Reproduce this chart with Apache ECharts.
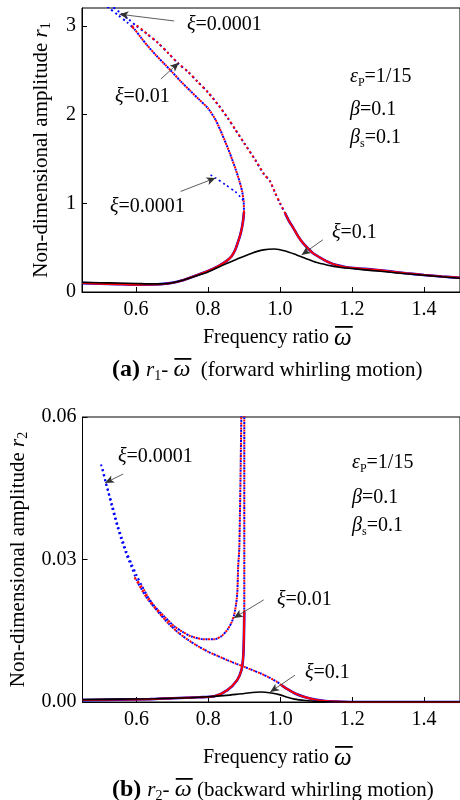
<!DOCTYPE html>
<html><head><meta charset="utf-8">
<script src="https://cdn.jsdelivr.net/npm/echarts@6/dist/echarts.min.js"></script>
<style>html,body{margin:0;padding:0;background:#fff}#c{width:460px;height:800px}</style>
</head><body><div id="c"></div>
<script>
// ---- tick values ----
const xTicks = [0.6, 0.8, 1.0, 1.2, 1.4];
const r1Ticks = [0, 1, 2, 3];
const r2Ticks = [0, 0.03, 0.06];

// ---- (a) r1 vs omega ----
const r1Xi01 = [[0.45,0.108],[0.50,0.105],[0.55,0.101],[0.60,0.096],[0.65,0.091],[0.68,0.093],[0.72,0.122],[0.76,0.172],[0.80,0.225],[0.84,0.300],[0.88,0.37],[0.92,0.435],[0.954,0.475],[0.985,0.485],[1.015,0.462],[1.046,0.418],[1.07,0.38],[1.10,0.334],[1.13,0.305],[1.165,0.279],[1.20,0.264],[1.257,0.241],[1.30,0.225],[1.35,0.205],[1.40,0.188],[1.45,0.171],[1.50,0.155]];
const r1Xi001Low = [[0.45,0.10],[0.50,0.094],[0.55,0.088],[0.60,0.083],[0.65,0.084],[0.69,0.097],[0.72,0.12],[0.75,0.16],[0.78,0.205],[0.81,0.255],[0.83,0.295],[0.85,0.345],[0.865,0.40],[0.875,0.47],[0.883,0.56],[0.89,0.65],[0.895,0.74],[0.898,0.82],[0.90,0.90]];
const r1Xi001Inner = [[0.90,0.90],[0.899,1.02],[0.895,1.13],[0.888,1.24],[0.877,1.38],[0.86,1.57],[0.84,1.77],[0.821,1.94],[0.80,2.07],[0.775,2.17],[0.75,2.27],[0.725,2.37],[0.70,2.48],[0.68,2.565],[0.655,2.67],[0.633,2.77],[0.615,2.86],[0.596,2.96],[0.588,2.99]];
const r1Xi001Outer = [[0.588,2.99],[0.60,3.0],[0.63,2.91],[0.66,2.81],[0.69,2.69],[0.716,2.58],[0.745,2.48],[0.771,2.37],[0.80,2.25],[0.83,2.10],[0.855,1.96],[0.876,1.83],[0.90,1.68],[0.931,1.49],[0.955,1.33],[0.972,1.25],[0.986,1.12],[1.0,1.0],[1.014,0.889]];
const r1Xi001Right = [[1.014,0.889],[1.025,0.80],[1.037,0.72],[1.05,0.63],[1.064,0.55],[1.078,0.49],[1.092,0.437],[1.115,0.38],[1.138,0.331],[1.16,0.30],[1.184,0.279],[1.22,0.265],[1.257,0.254],[1.30,0.235],[1.35,0.212],[1.40,0.192],[1.45,0.175],[1.50,0.16]];
const r1Xi00001InnerTop = [[0.596,2.96],[0.575,3.04],[0.55,3.12],[0.525,3.20],[0.50,3.27]];
const r1Xi00001OuterTop = [[0.51,3.29],[0.53,3.23],[0.555,3.15],[0.58,3.07],[0.60,3.0]];
const r1Xi00001Branch = [[0.807,1.32],[0.821,1.285],[0.848,1.21],[0.876,1.13],[0.89,1.07],[0.898,1.03]];

// ---- (b) r2 vs omega ----
const r2Xi01 = [[0.45,0.0005],[0.55,0.0006],[0.65,0.0007],[0.75,0.0009],[0.80,0.0011],[0.85,0.0014],[0.90,0.0018],[0.946,0.0021],[0.975,0.0019],[1.00,0.0015],[1.02,0.001],[1.04,0.0006],[1.07,0.0003],[1.10,0.0001],[1.15,0],[1.50,0]];
const r2Xi001Low = [[0.45,0.0004],[0.55,0.0005],[0.637,0.0006],[0.70,0.0008],[0.775,0.0010],[0.817,0.0012],[0.853,0.0025],[0.88,0.0046],[0.892,0.0067],[0.897,0.0095],[0.899,0.0138],[0.90,0.019]];
const r2Xi001Vert = [[0.90,0.019],[0.90,0.03],[0.90,0.045],[0.90,0.062]];
const r2Xi001Upper = [[0.595,0.0262],[0.615,0.0243],[0.633,0.022],[0.651,0.0201],[0.68,0.0178],[0.706,0.0159],[0.73,0.0147],[0.753,0.0138],[0.789,0.0132],[0.817,0.0132],[0.837,0.0139],[0.853,0.0152],[0.865,0.0168],[0.872,0.0184],[0.878,0.021],[0.881,0.0236],[0.883,0.0286],[0.886,0.0321],[0.888,0.04],[0.89,0.05],[0.892,0.062]];
const r2Xi001Lower = [[0.595,0.0262],[0.615,0.0236],[0.633,0.0215],[0.66,0.019],[0.688,0.0166],[0.715,0.0147],[0.743,0.0131],[0.77,0.0118],[0.799,0.0106],[0.826,0.0097],[0.853,0.0088],[0.876,0.0081],[0.90,0.0074],[0.923,0.0067],[0.946,0.006],[0.968,0.0052],[0.99,0.0043],[1.004,0.0035]];
const r2Xi001Right = [[1.004,0.0035],[1.02,0.0027],[1.041,0.0018],[1.07,0.001],[1.097,0.0005],[1.125,0.0002],[1.152,0.0001],[1.2,0],[1.5,0]];
const r2Xi00001UpperTop = [[0.50,0.0505],[0.513,0.0466],[0.532,0.0417],[0.548,0.0372],[0.56,0.0344],[0.573,0.0315],[0.587,0.029],[0.601,0.0266],[0.615,0.0245]];
const r2Xi00001LowerTop = [[0.505,0.0495],[0.515,0.0462],[0.532,0.041],[0.548,0.0366],[0.56,0.0337],[0.573,0.0309],[0.587,0.0283],[0.601,0.0256],[0.615,0.0236]];

// ---- annotation arrows (tail -> head, data coords) ----
const arrowsA = [[[0.706,3.054],[0.554,3.13]],[[0.669,2.40],[0.719,2.584]],[[0.724,1.133],[0.821,1.285]],[[1.119,0.588],[1.06,0.418]]];
const arrowsB = [[[0.563,0.048],[0.5126,0.0461]],[[0.954,0.0215],[0.871,0.0177]],[[1.041,0.00565],[0.972,0.0021]]];

const F = '"Liberation Serif","Times New Roman",serif';
const RED = '#ff0000', BLUE = '#0000ff', BLACK = '#000';
const rich = {
  n: {fontFamily: F, fontSize: 20, color: '#000', lineHeight: 24},
  i: {fontFamily: F, fontSize: 20, color: '#000', fontStyle: 'italic', lineHeight: 24},
  yn: {fontFamily: F, fontSize: 21, color: '#000', lineHeight: 24},
  yi: {fontFamily: F, fontSize: 21, color: '#000', fontStyle: 'italic', lineHeight: 24},
  s: {fontFamily: F, fontSize: 12, color: '#000', verticalAlign: 'bottom', lineHeight: 12},
  sc: {fontFamily: F, fontSize: 14, color: '#000', verticalAlign: 'bottom', lineHeight: 14}
};

function ln(data, g, color, width, dotted, offset, z) {
  return {
    type: 'line', xAxisIndex: g, yAxisIndex: g, data: data, showSymbol: false, symbol: 'none',
    smooth: 0.25, clip: true, z: z || 2, silent: true,
    lineStyle: {color: color, width: width, type: dotted ? [2, 3] : 'solid', dashOffset: offset || 0}
  };
}
function arrows(list, g) {
  return {
    type: 'line', xAxisIndex: g, yAxisIndex: g, data: [], silent: true,
    markLine: {
      silent: true, symbol: ['none', 'arrow'], symbolSize: [6, 9], animation: false,
      lineStyle: {color: '#333', width: 0.8, type: 'solid'}, label: {show: false},
      emphasis: {disabled: true},
      data: list.map(a => [{coord: a[0]}, {coord: a[1]}])
    }
  };
}
const blueInnerA = r1Xi001Inner.slice(0, -2).concat(r1Xi00001InnerTop);
const blueOuterA = r1Xi00001OuterTop.concat(r1Xi001Outer.slice(2));
const blueUpperB = r2Xi00001UpperTop.concat(r2Xi001Upper.slice(2));
const blueLowerB = r2Xi00001LowerTop.concat(r2Xi001Lower.slice(2));

function xAx(g) {
  return {
    type: 'value', gridIndex: g, min: 0.45, max: 1.5,
    axisLine: {show: true, lineStyle: {color: '#000', width: 1}},
    axisTick: {show: true, inside: true, length: 5, customValues: xTicks, lineStyle: {color: '#000'}},
    axisLabel: {customValues: xTicks, formatter: v => v.toFixed(1), fontFamily: F, fontSize: 20, color: '#000', margin: 8},
    splitLine: {show: false}
  };
}
function yAx(g, ticks, max, dec, sub, gap) {
  return {
    type: 'value', gridIndex: g, min: 0, max: max,
    name: '{yn|Non-dimensional amplitude }{yi|r}{sc|' + sub + '}', nameLocation: 'middle', nameGap: gap,
    nameTextStyle: {rich: rich},
    axisLine: {show: true, lineStyle: {color: '#000', width: 1}},
    axisTick: {show: true, inside: true, length: 5, customValues: ticks, lineStyle: {color: '#000'}},
    axisLabel: {customValues: ticks, formatter: v => v.toFixed(dec), fontFamily: F, fontSize: 20, color: '#000', margin: 6},
    splitLine: {show: false}
  };
}
function txt(x, y, text) {
  return {type: 'text', x: x, y: y, silent: true, style: {text: text, rich: rich, align: 'left', verticalAlign: 'middle'}};
}

// composite text with overline on chosen tokens (measured with canvas)
const mctx = document.createElement('canvas').getContext('2d');
function composite(x, y, tokens) {
  const out = [];
  const r = {};
  let str = '', cx = x;
  tokens.forEach((tk, k) => {
    const key = 'k' + k;
    const st = {fontFamily: F, fontSize: tk.size, color: '#000', lineHeight: tk.lh || 26,
      fontStyle: tk.it ? 'italic' : 'normal', fontWeight: tk.bold ? 'bold' : 'normal'};
    if (tk.sub) { st.verticalAlign = 'bottom'; }
    r[key] = st;
    str += '{' + key + '|' + tk.t + '}';
    mctx.font = (tk.it ? 'italic ' : '') + (tk.bold ? 'bold ' : '') + tk.size + 'px ' + F;
    const w = mctx.measureText(tk.t).width;
    if (tk.bar) {
      out.push({type: 'rect', silent: true, shape: {x: cx + 1, y: y + tk.bar, width: w, height: 1.8}, style: {fill: '#000'}});
    }
    cx += w;
  });
  out.unshift({type: 'text', x: x, y: y, silent: true, style: {text: str, rich: r, align: 'left', verticalAlign: 'middle'}});
  return out;
}

const graphics = [
  txt(187, 25, '{i|ξ}{n|=0.0001}'),
  txt(115, 97, '{i|ξ}{n|=0.01}'),
  txt(110, 207, '{i|ξ}{n|=0.0001}'),
  txt(332, 233, '{i|ξ}{n|=0.1}'),
  txt(350, 77, '{i|ε}{s|P}{n|=1/15}'),
  txt(350, 110, '{i|β}{n|=0.1}'),
  txt(350, 138, '{i|β}{s|s}{n|=0.1}'),
  txt(118, 457, '{i|ξ}{n|=0.0001}'),
  txt(277, 600, '{i|ξ}{n|=0.01}'),
  txt(305, 673, '{i|ξ}{n|=0.1}'),
  txt(352, 463, '{i|ε}{s|P}{n|=1/15}'),
  txt(352, 498, '{i|β}{n|=0.1}'),
  txt(352, 526, '{i|β}{s|s}{n|=0.1}')
].concat(
  composite(203, 338, [{t: 'Frequency ratio ', size: 20}, {t: 'ω', size: 25, it: true, bar: -12}]),
  composite(203, 758, [{t: 'Frequency ratio ', size: 20}, {t: 'ω', size: 25, it: true, bar: -12}]),
  composite(112, 370, [{t: '(a) ', size: 24, bold: true}, {t: 'r', size: 21, it: true}, {t: '1', size: 14, sub: true, lh: 14}, {t: '- ', size: 21}, {t: 'ω', size: 24, it: true, bar: -12}, {t: '  (forward whirling motion)', size: 21}]),
  composite(112, 790, [{t: '(b) ', size: 24, bold: true}, {t: 'r', size: 21, it: true}, {t: '2', size: 14, sub: true, lh: 14}, {t: '- ', size: 21}, {t: 'ω', size: 24, it: true, bar: -12}, {t: ' (backward whirling motion)', size: 21}])
);

const chart = echarts.init(document.getElementById('c'), null, {renderer: 'canvas'});
chart.setOption({
  animation: false,
  backgroundColor: '#fff',
  grid: [
    {left: 82, top: 8, right: -1, height: 284, show: true, borderColor: '#000', borderWidth: 1, containLabel: false},
    {left: 82, top: 417, right: -1, height: 285, show: true, borderColor: '#000', borderWidth: 1, containLabel: false}
  ],
  xAxis: [xAx(0), xAx(1)],
  yAxis: [yAx(0, r1Ticks, 3.2, 0, '1', 29), yAx(1, r2Ticks, 0.06, 2, '2', 52)],
  series: [
    // (a)
    ln(r1Xi001Low, 0, BLUE, 2.6, false, 0, 2),
    ln(r1Xi001Right, 0, BLUE, 2.6, false, 0, 2),
    ln(blueInnerA, 0, BLUE, 2, true, 2.5, 2),
    ln(blueOuterA, 0, BLUE, 2, true, 2.5, 2),
    ln(r1Xi00001Branch, 0, BLUE, 1.6, true, 0, 2),
    ln(r1Xi001Low, 0, RED, 2, false, 0, 3),
    ln(r1Xi001Right, 0, RED, 2, false, 0, 3),
    ln(r1Xi001Inner, 0, RED, 2, true, 0, 3),
    ln(r1Xi001Outer, 0, RED, 2, true, 0, 3),
    ln(r1Xi01, 0, BLACK, 1.6, false, 0, 4),
    arrows(arrowsA, 0),
    // (b)
    ln(r2Xi001Low, 1, BLUE, 2.6, false, 0, 2),
    ln(r2Xi001Right, 1, BLUE, 2.6, false, 0, 2),
    ln(r2Xi001Vert, 1, BLUE, 2, true, 2.5, 2),
    ln(blueUpperB, 1, BLUE, 2, true, 2.5, 2),
    ln(blueLowerB, 1, BLUE, 2, true, 2.5, 2),
    ln(r2Xi001Low, 1, RED, 2, false, 0, 3),
    ln(r2Xi001Right, 1, RED, 2, false, 0, 3),
    ln(r2Xi001Vert, 1, RED, 2, true, 0, 3),
    ln(r2Xi001Upper, 1, RED, 2, true, 0, 3),
    ln(r2Xi001Lower, 1, RED, 2, true, 0, 3),
    ln(r2Xi01, 1, BLACK, 1.6, false, 0, 4),
    arrows(arrowsB, 1)
  ],
  graphic: graphics
});
</script>
</body></html>
